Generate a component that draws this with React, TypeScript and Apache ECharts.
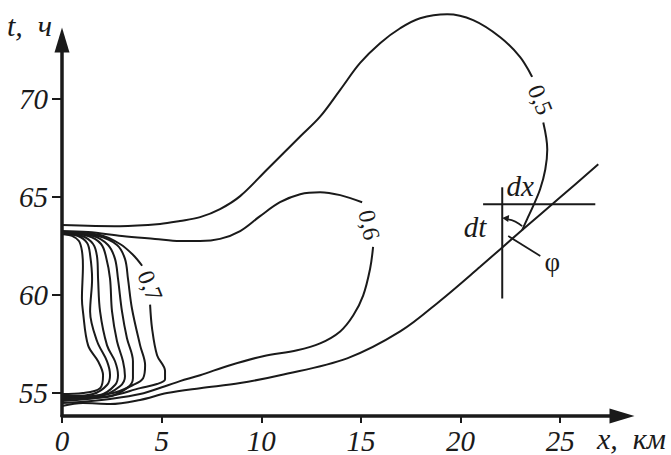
import React, { useEffect, useRef } from "react";
import * as echarts from "echarts";

type Pt = [number, number];

// Axis ticks
const xTicks = [0, 5, 10, 15, 20, 25];
const tTicks = [55, 60, 65, 70];

// Isoline 0,5: upper branch up to the label, return branch after the label,
// and the lower branch, which runs on as the tangent at the contact point
const iso05Upper: Pt[] = [
  [0, 63.57], [2.91, 63.51], [4.92, 63.62], [5.92, 63.77], [6.93, 63.97],
  [7.93, 64.38], [8.94, 65.04], [10.29, 66.4], [11.95, 68.08], [12.95, 69.09],
  [13.96, 70.46], [14.96, 71.83], [15.96, 72.84], [16.97, 73.6], [17.97, 74.11],
  [19.33, 74.31], [20.63, 74.01], [21.99, 73.14], [22.99, 72.13], [23.59, 71.12],
];
const iso05Return: Pt[] = [
  [24.15, 68.79], [24.35, 67.42], [24.25, 66.4], [23.99, 65.39], [23.64, 64.53],
  [23.34, 63.87], [23.09, 63.31],
];
const iso05Lower: Pt[] = [
  [0, 54.34], [1.05, 54.49], [2.41, 54.44], [3.92, 54.65], [5.27, 55.0],
  [6.93, 55.25], [8.94, 55.51], [10.94, 55.91], [14.31, 56.77], [16.97, 58.14],
  [18.98, 59.71], [20.98, 61.44], [23.09, 63.31], [25.0, 64.98], [26.91, 66.66],
];

// Isoline 0,6
const iso06Upper: Pt[] = [
  [0, 63.26], [1.31, 63.21], [3.01, 63.01], [4.67, 62.86], [5.92, 62.75],
  [6.93, 62.75], [7.93, 62.86], [8.94, 63.26], [9.94, 64.02], [10.94, 64.73],
  [11.95, 65.14], [12.95, 65.24], [13.96, 65.09], [15.06, 64.73],
];
const iso06Lower: Pt[] = [
  [15.61, 62.45], [15.46, 61.34], [15.11, 59.97], [14.61, 58.95], [13.96, 58.14],
  [12.95, 57.53], [11.8, 57.18], [10.09, 56.88], [8.43, 56.42], [6.93, 55.91],
  [5.92, 55.61], [5.17, 55.35], [3.92, 54.95], [2.41, 54.7], [0.9, 54.54], [0, 54.49],
];

// Nested isolines near the origin, the outermost one labelled 0,7
const iso07a: Pt[] = [
  [0, 63.11], [0.5, 63.01], [0.85, 62.75], [1.0, 62.25], [1.05, 61.49], [1.0, 59.82],
  [1.05, 59.16], [1.31, 57.43], [1.81, 56.62], [2.06, 55.91], [1.91, 55.25],
  [1.05, 55.0], [0, 54.95],
];
const iso07b: Pt[] = [
  [0, 63.11], [0.8, 63.01], [1.26, 62.65], [1.41, 62.05], [1.51, 60.83], [1.41, 59.16],
  [1.76, 57.64], [2.26, 56.62], [2.41, 55.91], [2.26, 55.41], [1.56, 54.95],
  [0.55, 54.85], [0, 54.85],
];
const iso07c: Pt[] = [
  [0, 63.11], [1.0, 63.01], [1.56, 62.6], [1.76, 61.94], [1.81, 60.83], [1.91, 59.16],
  [2.26, 57.43], [2.66, 56.62], [2.81, 55.91], [2.66, 55.41], [1.91, 54.9],
  [0.55, 54.8], [0, 54.8],
];
const iso07d: Pt[] = [
  [0, 63.16], [1.31, 63.01], [1.96, 62.6], [2.21, 61.94], [2.41, 60.83], [2.51, 59.16],
  [2.76, 57.64], [3.06, 56.62], [3.16, 55.86], [2.91, 55.35], [1.91, 54.85], [0, 54.75],
];
const iso07e: Pt[] = [
  [0, 63.16], [1.56, 63.01], [2.31, 62.55], [2.66, 61.84], [2.81, 60.83], [3.01, 59.16],
  [3.26, 57.79], [3.56, 56.62], [3.56, 55.76], [3.26, 55.25], [2.26, 54.8], [0, 54.7],
];
const iso07f: Pt[] = [
  [0, 63.16], [1.81, 63.01], [2.76, 62.55], [3.16, 61.84], [3.31, 60.83], [3.51, 59.31],
  [3.92, 57.43], [4.17, 56.42], [4.07, 55.76], [3.56, 55.41], [2.56, 55.0], [0, 54.65],
];
const iso07Upper: Pt[] = [
  [0, 63.21], [1.91, 63.06], [2.91, 62.6], [3.56, 62.05], [4.02, 61.49],
];
const iso07Lower: Pt[] = [
  [4.42, 59.51], [4.52, 58.29], [4.77, 56.93], [5.17, 56.12], [5.17, 55.71],
  [4.77, 55.46], [3.92, 55.25], [2.41, 54.85], [0, 54.59],
];

// Cross of increments dx, dt at the contact point
const crossVertical: Pt[] = [[22.09, 65.49], [22.09, 59.82]];
const crossHorizontal: Pt[] = [[21.13, 64.63], [26.76, 64.63]];

// Isoline labels: text, anchor, text angle (degrees)
const isoLabels: { text: string; at: Pt; angle: number }[] = [
  { text: "0,5", at: [24.0, 69.95], angle: -68 },
  { text: "0,6", at: [15.41, 63.57], angle: -78 },
  { text: "0,7", at: [4.42, 60.47], angle: -68 },
];

// Annotation anchors
const dxAt: Pt = [22.99, 65.55];
const dtAt: Pt = [20.73, 63.46];
const phiAt: Pt = [24.6, 61.69];
const angleArc: Pt[] = [[23.09, 63.51], [22.7, 63.85], [22.24, 63.87]];
const phiLeader: Pt[] = [[22.39, 63.01], [24.0, 61.99]];

const INK = "#1a1a1a";
const SERIF = "'Liberation Serif', 'Times New Roman', serif";

const curves: Pt[][] = [
  iso05Upper, iso05Return, iso05Lower,
  iso06Upper, iso06Lower,
  iso07a, iso07b, iso07c, iso07d, iso07e, iso07f, iso07Upper, iso07Lower,
];

export default function App() {
  const ref = useRef<HTMLDivElement>(null);

  useEffect(() => {
    document.body.style.margin = "0";
    const el = ref.current;
    if (!el) return;
    const chart = echarts.init(el, null, { renderer: "svg" });

    const lineSeries = (data: Pt[], smooth: number | boolean = 0.35, width = 2) => ({
      type: "line" as const,
      data,
      smooth,
      symbol: "none",
      showSymbol: false,
      clip: false,
      silent: true,
      lineStyle: { color: INK, width },
    });

    chart.setOption({
      animation: false,
      backgroundColor: "#ffffff",
      grid: { left: 62, right: 49, top: 40, bottom: 37, containLabel: false },
      xAxis: {
        type: "value",
        min: 0,
        max: 28.1,
        axisLine: {
          show: true,
          onZero: false,
          symbol: ["none", "triangle"],
          symbolSize: [15, 25],
          lineStyle: { color: INK, width: 3.5 },
        },
        axisTick: { show: true, length: 7, customValues: xTicks, lineStyle: { color: INK, width: 2 } },
        axisLabel: {
          customValues: xTicks,
          margin: 10,
          fontFamily: SERIF,
          fontStyle: "italic",
          fontSize: 29,
          color: INK,
        },
        splitLine: { show: false },
      },
      yAxis: {
        type: "value",
        min: 53.83,
        max: 73,
        axisLine: {
          show: true,
          onZero: false,
          symbol: ["none", "triangle"],
          symbolSize: [15, 25],
          lineStyle: { color: INK, width: 3.5 },
        },
        axisTick: { show: true, length: 10, customValues: tTicks, lineStyle: { color: INK, width: 2 } },
        axisLabel: {
          customValues: tTicks,
          margin: 14,
          fontFamily: SERIF,
          fontStyle: "italic",
          fontSize: 29,
          color: INK,
        },
        splitLine: { show: false },
      },
      series: [
        ...curves.map((c) => lineSeries(c)),
        lineSeries(crossVertical, false),
        lineSeries(crossHorizontal, false),
      ],
    });

    const px = (p: Pt) => chart.convertToPixel({ gridIndex: 0 }, p) as number[];
    const graphics: any[] = [];

    isoLabels.forEach((l) => {
      const [x, y] = px(l.at);
      graphics.push({
        type: "text",
        x,
        y,
        rotation: (l.angle * Math.PI) / 180,
        silent: true,
        style: {
          text: l.text,
          fontFamily: SERIF,
          fontSize: 24,
          fill: INK,
          align: "center",
          verticalAlign: "middle",
        },
      });
    });

    const addText = (text: string, at: Pt, italic: boolean, size: number) => {
      const [x, y] = px(at);
      graphics.push({
        type: "text",
        x,
        y,
        silent: true,
        style: {
          text,
          fontFamily: SERIF,
          fontStyle: italic ? "italic" : "normal",
          fontSize: size,
          fill: INK,
          align: "center",
          verticalAlign: "middle",
        },
      });
    };
    addText("dx", dxAt, true, 29);
    addText("dt", dtAt, true, 29);
    addText("φ", phiAt, false, 27);

    // angle arc with arrow head
    const a0 = px(angleArc[0]);
    const a1 = px(angleArc[1]);
    const a2 = px(angleArc[2]);
    graphics.push({
      type: "bezierCurve",
      silent: true,
      shape: { x1: a0[0], y1: a0[1], cpx1: a1[0], cpy1: a1[1], x2: a2[0], y2: a2[1] },
      style: { stroke: INK, lineWidth: 1.6, fill: "none" },
    });
    graphics.push({
      type: "polygon",
      silent: true,
      shape: {
        points: [
          [a2[0] - 3, a2[1] - 1],
          [a2[0] + 4, a2[1] - 4],
          [a2[0] + 3, a2[1] + 3],
        ],
      },
      style: { fill: INK },
    });

    const l0 = px(phiLeader[0]);
    const l1 = px(phiLeader[1]);
    graphics.push({
      type: "line",
      silent: true,
      shape: { x1: l0[0], y1: l0[1], x2: l1[0], y2: l1[1] },
      style: { stroke: INK, lineWidth: 1.8 },
    });

    // axis names
    graphics.push({
      type: "text",
      left: 7,
      top: 10,
      silent: true,
      style: { text: "t,  ч", fontFamily: SERIF, fontStyle: "italic", fontSize: 30, fill: INK },
    });
    graphics.push({
      type: "text",
      left: 597,
      top: 423,
      silent: true,
      style: { text: "x,  км", fontFamily: SERIF, fontStyle: "italic", fontSize: 30, fill: INK },
    });

    chart.setOption({ graphic: graphics });

    return () => chart.dispose();
  }, []);

  return <div ref={ref} style={{ width: 671, height: 455 }} />;
}
